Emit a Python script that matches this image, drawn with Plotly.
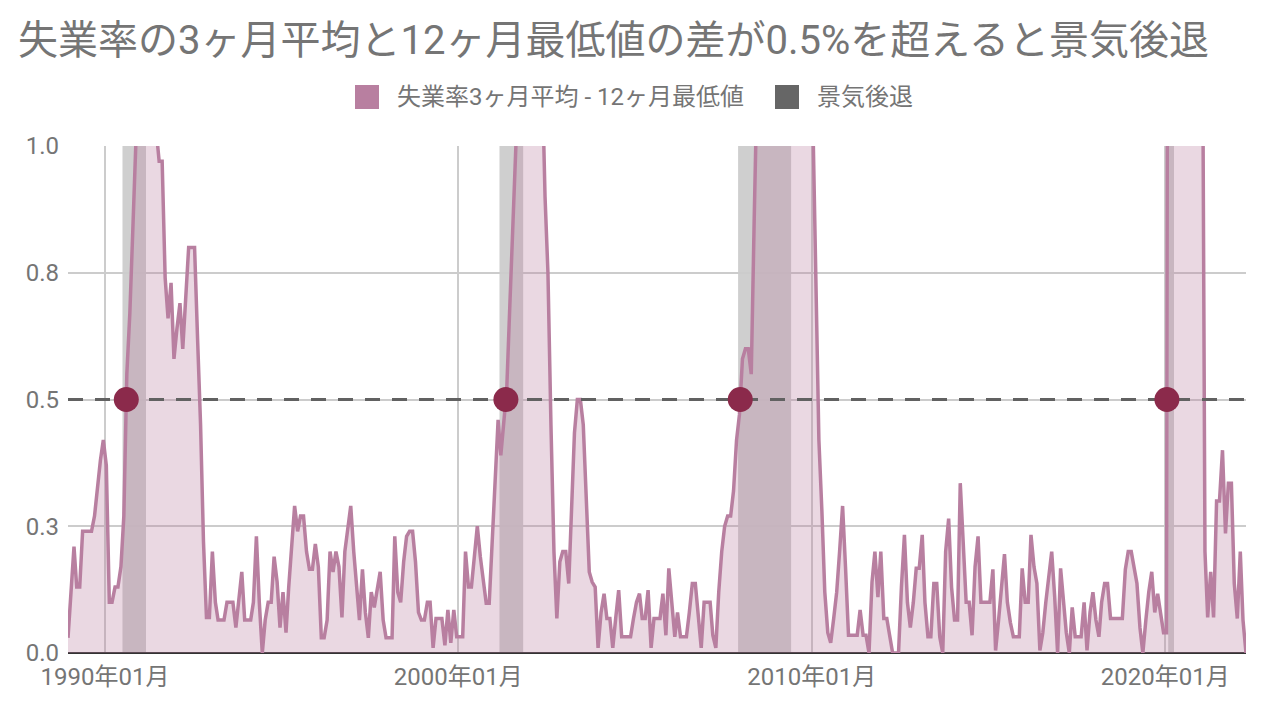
import pandas as pd
import plotly.graph_objects as go

# Sahm-style indicator: 3-month average unemployment rate minus its 12-month low (pt)
months = pd.date_range("1988-12-15", periods=401, freq=pd.DateOffset(months=1))

sahm_gap = [
    # 1988-12 .. 1991
    0.03, 0.12, 0.21, 0.13, 0.13, 0.24, 0.24, 0.24, 0.24, 0.27, 0.33, 0.38,
    0.42, 0.37, 0.10, 0.10, 0.13, 0.13, 0.17, 0.27, 0.55, 0.67, 0.83, 1.10,
    1.23, 1.33, 1.40, 1.37, 1.27, 1.13, 1.03, 0.97, 0.97, 0.74, 0.66, 0.73,
    0.58, 0.64, 0.69, 0.60, 0.70, 0.80, 0.80, 0.80, 0.62, 0.45, 0.22, 0.07,
    # 1992-12 ..
    0.07, 0.20, 0.10, 0.065, 0.065, 0.065, 0.10, 0.10, 0.10, 0.05, 0.10, 0.16,
    0.065, 0.065, 0.065, 0.10, 0.23, 0.10, 0.0, 0.065, 0.10, 0.10, 0.19, 0.14,
    0.05, 0.12, 0.04, 0.13, 0.21, 0.29, 0.24, 0.27, 0.27, 0.20, 0.165, 0.165,
    0.215, 0.17, 0.03, 0.03, 0.065, 0.20, 0.16, 0.20, 0.17, 0.07, 0.20, 0.25,
    0.29, 0.20, 0.125, 0.065, 0.165, 0.08, 0.03, 0.12, 0.09, 0.13, 0.16, 0.065,
    0.03, 0.03, 0.03, 0.23, 0.12, 0.10, 0.18, 0.23, 0.24, 0.24, 0.18, 0.08,
    # 1998-12 ..
    0.065, 0.065, 0.10, 0.10, 0.01, 0.068, 0.068, 0.068, 0.015, 0.085, 0.02, 0.085,
    0.032, 0.032, 0.032, 0.20, 0.13, 0.13, 0.20, 0.25, 0.19, 0.14, 0.098, 0.098,
    0.22, 0.32, 0.46, 0.39, 0.45, 0.52, 0.68, 0.90, 1.10, 1.20, 1.35, 1.45,
    1.50, 1.55, 1.50, 1.40, 1.30, 1.15, 0.90, 0.75, 0.45, 0.20, 0.068, 0.18,
    0.20, 0.20, 0.137, 0.29, 0.434, 0.50, 0.50, 0.45, 0.30, 0.16, 0.14, 0.13,
    # 2003-12 ..
    0.01, 0.08, 0.117, 0.068, 0.068, 0.01, 0.07, 0.124, 0.032, 0.032, 0.032, 0.032,
    0.068, 0.10, 0.117, 0.068, 0.068, 0.124, 0.01, 0.068, 0.068, 0.068, 0.117, 0.035,
    0.167, 0.10, 0.032, 0.08, 0.032, 0.032, 0.032, 0.08, 0.137, 0.137, 0.07, 0.01,
    0.10, 0.10, 0.10, 0.035, 0.01, 0.12, 0.20, 0.25, 0.27, 0.27, 0.32, 0.42,
    0.47, 0.58, 0.60, 0.60, 0.55, 0.85, 1.10, 1.30, 1.50, 1.80, 2.20, 2.70,
    # 2008-12 ..
    3.10, 3.50, 3.90, 4.20, 4.40, 4.50, 4.50, 4.30, 3.90, 3.30, 2.60, 1.90,
    1.40, 1.02, 0.70, 0.42, 0.28, 0.12, 0.04, 0.02, 0.068, 0.12, 0.20, 0.29,
    0.17, 0.035, 0.035, 0.035, 0.035, 0.085, 0.035, 0.035, 0.0, 0.14, 0.20, 0.11,
    0.20, 0.068, 0.068, 0.035, 0.0, 0.0, 0.0, 0.13, 0.233, 0.10, 0.05, 0.10,
    0.167, 0.167, 0.233, 0.10, 0.032, 0.032, 0.137, 0.137, 0.032, 0.0, 0.20, 0.265,
    # 2013-12 ..
    0.13, 0.065, 0.065, 0.335, 0.21, 0.10, 0.10, 0.035, 0.17, 0.23, 0.10, 0.10,
    0.10, 0.10, 0.165, 0.005, 0.065, 0.137, 0.195, 0.10, 0.06, 0.032, 0.032, 0.032,
    0.167, 0.10, 0.10, 0.233, 0.17, 0.137, 0.005, 0.04, 0.10, 0.15, 0.20, 0.11,
    0.0, 0.167, 0.10, 0.04, 0.0, 0.09, 0.032, 0.032, 0.032, 0.10, 0.005, 0.08,
    0.12, 0.065, 0.032, 0.10, 0.137, 0.137, 0.068, 0.068, 0.068, 0.068, 0.068, 0.165,
    # 2018-12 ..
    0.20, 0.20, 0.17, 0.137, 0.05, 0.0, 0.065, 0.12, 0.16, 0.08, 0.117, 0.08,
    0.04, 0.04, 4.00, 9.50, 8.50, 7.00, 6.50, 5.80, 5.20, 4.70, 4.00, 3.50,
    2.80, 1.50, 0.20, 0.07, 0.16, 0.07, 0.30, 0.30, 0.40, 0.236, 0.335, 0.335,
    0.137, 0.068, 0.20, 0.065, 0.0,
]
assert len(sahm_gap) == len(months)

threshold = 0.5

recessions = [
    ("1990-07-01", "1991-03-01"),
    ("2001-03-01", "2001-11-01"),
    ("2007-12-01", "2009-06-01"),
    ("2020-02-01", "2020-04-01"),
]

decade_ticks = ["1990-01-01", "2000-01-01", "2010-01-01", "2020-01-01"]
decade_labels = ["1990年01月", "2000年01月", "2010年01月", "2020年01月"]
y_ticks = [0.0, 0.25, 0.5, 0.75, 1.0]
y_labels = ["0.0", "0.3", "0.5", "0.8", "1.0"]

title_text = "失業率の3ヶ月平均と12ヶ月最低値の差が0.5%を超えると景気後退"
series_name = "失業率3ヶ月平均 - 12ヶ月最低値"
recession_name = "景気後退"

LINE = "#b87fa0"
FILL = "rgba(184,127,160,0.3)"
DOT = "#8b2a4b"
BAND = "rgba(110,110,110,0.33)"
BAND_KEY = "#666666"
TEXT = "#757575"
GRID = "#cccccc"
FONT = "Roboto, 'Noto Sans CJK JP', sans-serif"

# upward crossings of the threshold, interpolated between months
cross_x, cross_y = [], []
for i in range(len(sahm_gap) - 1):
    a, b = sahm_gap[i], sahm_gap[i + 1]
    if a < threshold < b:
        t = (threshold - a) / (b - a)
        cross_x.append(months[i] + (months[i + 1] - months[i]) * t)
        cross_y.append(threshold)

fig = go.Figure()
fig.add_trace(go.Scatter(
    x=months, y=sahm_gap, mode="lines", name=series_name,
    line=dict(color=LINE, width=3.5), fill="tozeroy", fillcolor=FILL,
    showlegend=False,
))
fig.add_trace(go.Scatter(
    x=[months[0], months[-1]], y=[threshold, threshold], mode="lines",
    line=dict(color="#616161", width=3, dash="15px,12px"),
    showlegend=False, hoverinfo="skip",
))
fig.add_trace(go.Scatter(
    x=cross_x, y=cross_y, mode="markers",
    marker=dict(color=DOT, size=25), showlegend=False,
))

shapes = []
for start, end in recessions:
    shapes.append(dict(
        type="rect", xref="x", yref="y", x0=start, x1=end, y0=0, y1=1,
        fillcolor=BAND, line=dict(width=0), layer="below",
    ))

# legend keys drawn as square swatches above the plot
plot_left, plot_width, plot_bottom, plot_height = 68, 1178, 653, 507
legend_y = (plot_bottom - 97) / plot_height
keys = [(367, 395, LINE, series_name), (787, 815, BAND_KEY, recession_name)]
annotations = []
for cx, tx, color, label in keys:
    shapes.append(dict(
        type="rect", xref="paper", yref="paper",
        xsizemode="pixel", ysizemode="pixel",
        xanchor=(cx - plot_left) / plot_width, yanchor=legend_y,
        x0=-12, x1=12, y0=-12, y1=12,
        fillcolor=color, line=dict(width=0),
    ))
    annotations.append(dict(
        xref="paper", yref="paper", x=(tx - plot_left) / plot_width, y=legend_y,
        xanchor="left", yanchor="middle", showarrow=False, text=label,
        font=dict(family=FONT, size=24, color=TEXT),
    ))

fig.update_layout(
    width=1272, height=702,
    margin=dict(l=68, r=26, t=146, b=49),
    paper_bgcolor="white", plot_bgcolor="white",
    font=dict(family=FONT, size=24, color=TEXT),
    title=dict(
        text=title_text, xref="container", yref="container",
        x=18 / 1272, xanchor="left", y=1 - 40 / 702, yanchor="middle",
        font=dict(family=FONT, size=40, color=TEXT),
    ),
    shapes=shapes, annotations=annotations, showlegend=False,
    xaxis=dict(
        type="date", range=[months[0], months[-1]],
        tickvals=decade_ticks, ticktext=decade_labels,
        showgrid=True, gridcolor=GRID, gridwidth=2,
        zeroline=False, showline=False, ticks="", ticklabelstandoff=7,
        tickfont=dict(family=FONT, size=24, color=TEXT),
    ),
    yaxis=dict(
        range=[0, 1], tickvals=y_ticks, ticktext=y_labels,
        showgrid=True, gridcolor=GRID, gridwidth=2,
        zeroline=True, zerolinecolor="#333333", zerolinewidth=2,
        showline=False, ticks="", ticklabelstandoff=8,
        tickfont=dict(family=FONT, size=24, color=TEXT),
    ),
)

fig.write_html("out.html")
